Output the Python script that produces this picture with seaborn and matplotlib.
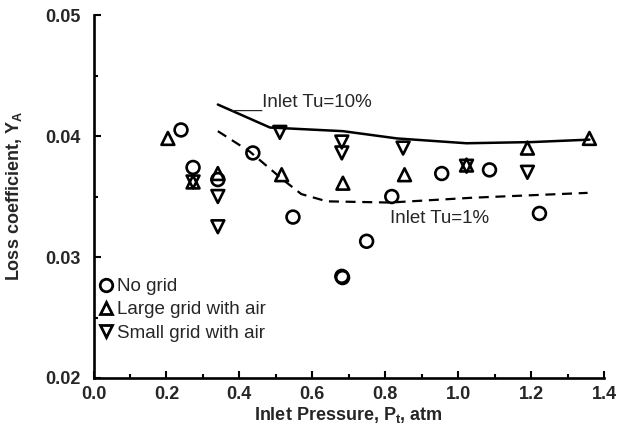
import matplotlib
matplotlib.use("Agg")
import matplotlib.pyplot as plt
import seaborn as sns
import pandas as pd
from matplotlib.lines import Line2D
from matplotlib.ticker import MultipleLocator

# ---- data ----
no_grid_x = [0.240, 0.273, 0.341, 0.437, 0.547, 0.681, 0.683, 0.749, 0.818, 0.955, 1.086, 1.223]
no_grid_y = [0.0405, 0.0374, 0.0364, 0.0386, 0.0333, 0.0284, 0.0283, 0.0313, 0.0350, 0.0369, 0.0372, 0.0336]

large_x = [0.204, 0.273, 0.341, 0.516, 0.684, 0.853, 1.023, 1.190, 1.360]
large_y = [0.0398, 0.0362, 0.0369, 0.0368, 0.0361, 0.0368, 0.0376, 0.0390, 0.0398]

small_x = [0.273, 0.341, 0.341, 0.511, 0.681, 0.681, 0.849, 1.023, 1.190]
small_y = [0.0362, 0.0350, 0.0325, 0.0403, 0.0395, 0.0386, 0.0390, 0.0375, 0.0370]

tu10_x = [0.341, 0.484, 0.684, 0.832, 1.023, 1.204, 1.360]
tu10_y = [0.0426, 0.0407, 0.0404, 0.0398, 0.0394, 0.0395, 0.0397]

tu1_x = [0.341, 0.429, 0.519, 0.570, 0.640, 0.812, 1.040, 1.355]
tu1_y = [0.0404, 0.0387, 0.0364, 0.0352, 0.0346, 0.0345, 0.0349, 0.0353]

series_names = ["No grid", "Large grid with air", "Small grid with air"]
series_markers = ["o", "^", "v"]

x_ticks = [0.0, 0.2, 0.4, 0.6, 0.8, 1.0, 1.2, 1.4]
y_ticks = [0.02, 0.03, 0.04, 0.05]

# ---- style ----
sns.set_theme(style="ticks")
plt.rcParams["font.family"] = ["Liberation Sans", "DejaVu Sans"]
plt.rcParams["mathtext.fontset"] = "custom"
plt.rcParams["mathtext.rm"] = "Liberation Sans"
plt.rcParams["mathtext.bf"] = "Liberation Sans:bold"
plt.rcParams["mathtext.it"] = "Liberation Sans:italic"

fig = plt.figure(figsize=(6.18, 4.28), dpi=100)
ax = fig.add_axes([93.5 / 618, 50 / 428, 510.5 / 618, 363 / 428])

# lines
sns.lineplot(x=tu10_x, y=tu10_y, ax=ax, color="black", linewidth=1.8,
             estimator=None, sort=False, legend=False)
sns.lineplot(x=tu1_x, y=tu1_y, ax=ax, color="black", linewidth=1.6,
             estimator=None, sort=False, legend=False, dashes=False)
ax.lines[-1].set_dashes([4.5, 3])

# points
xs = [no_grid_x, large_x, small_x]
ys = [no_grid_y, large_y, small_y]
for name, mk, xx, yy in zip(series_names, series_markers, xs, ys):
    df = pd.DataFrame({"x": xx, "y": yy})
    sns.scatterplot(data=df, x="x", y="y", ax=ax, marker=mk, s=85,
                    facecolor="none", edgecolor="black", linewidth=1.9,
                    color="black", legend=False, zorder=3)

ax.set_xlim(0, 1.4)
ax.set_ylim(0.02, 0.05)
ax.set_xticks(x_ticks)
ax.set_yticks(y_ticks)
ax.xaxis.set_minor_locator(MultipleLocator(0.1))
ax.yaxis.set_minor_locator(MultipleLocator(0.005))
ax.set_xticklabels([f"{v:.1f}" for v in x_ticks], fontweight="bold", fontsize=13)
ax.set_yticklabels([f"{v:.2f}" for v in y_ticks], fontweight="bold", fontsize=13)
ax.tick_params(which="major", direction="in", length=5, width=1.5, color="black")
ax.tick_params(which="minor", direction="in", length=3, width=1.5, color="black")
ax.tick_params(axis="x", which="major", pad=6)
ax.tick_params(axis="y", which="major", pad=9)

sns.despine(ax=ax)
for sp in ["left", "bottom"]:
    ax.spines[sp].set_linewidth(1.9)
    ax.spines[sp].set_color("black")

ax.set_xlabel(r"Inlet Pressure, P$_\mathbf{t}$, atm", fontweight="bold", fontsize=13, labelpad=1)
ax.set_ylabel(r"Loss coefficient, Y$_\mathbf{A}$", fontweight="bold", fontsize=13)
ax.yaxis.set_label_coords(-0.137, 0.5)

# annotations
ax.text(0.379, 0.0424, "___Inlet Tu=10%", fontsize=13.5, va="baseline", ha="left")
ax.text(0.812, 0.0328, "Inlet Tu=1%", fontsize=13.5, va="baseline", ha="left")

# legend
handles = [Line2D([], [], linestyle="none", marker=m, markersize=9,
                  markerfacecolor="none", markeredgecolor="black", markeredgewidth=2.0)
           for m in series_markers]
ax.legend(handles, series_names, loc="upper left", bbox_to_anchor=(0.012, 0.275),
          frameon=False, fontsize=13.5, handlelength=0.7, handletextpad=0.25,
          labelspacing=0.32, borderaxespad=0, borderpad=0)

fig.savefig("out.png", dpi=100)
